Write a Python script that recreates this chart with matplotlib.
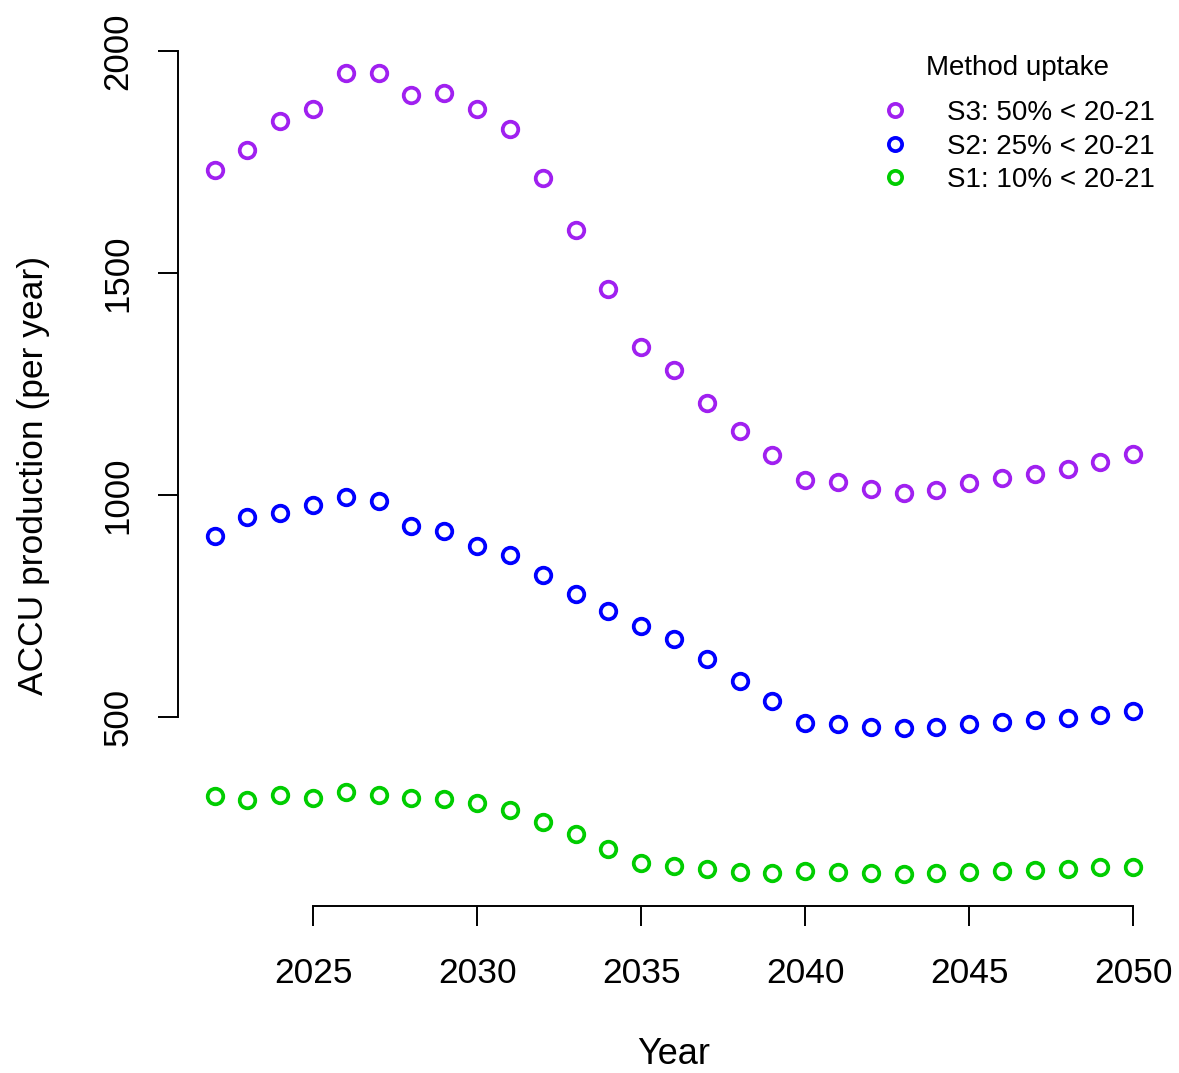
import matplotlib
matplotlib.use("Agg")
import matplotlib.pyplot as plt
import numpy as np

plt.rcParams['font.family'] = ['Liberation Sans', 'DejaVu Sans']

years = np.arange(2022, 2051)

s3 = [1732, 1777, 1842, 1869, 1950, 1950, 1901, 1905, 1869, 1824, 1713, 1597, 1464, 1333, 1282,
      1207, 1143, 1090, 1034, 1029, 1013, 1004, 1011, 1026, 1037, 1047, 1058, 1074, 1092]
s2 = [908, 951, 960, 976, 995, 985, 930, 919, 885, 865, 820, 777, 739, 705, 676,
      631, 580, 535, 486, 484, 477, 475, 477, 484, 489, 492, 497, 505, 512]
s1 = [322, 313, 324, 318, 330, 323, 317, 315, 306, 289, 264, 236, 203, 170, 163,
      157, 150, 149, 152, 150, 149, 146, 148, 150, 152, 154, 157, 161, 162]

labels = ["S3: 50% < 20-21", "S2: 25% < 20-21", "S1: 10% < 20-21"]
colors = ["#A020F0", "#0000FF", "#00CD00"]

W, H = 1179, 1073
fig = plt.figure(figsize=(W / 100, H / 100), dpi=100)
ax = fig.add_axes([177.9 / W, 1 - 906 / H, (1170 - 177.9) / W, (906 - 41) / H])

for vals, lab, col in zip([s3, s2, s1], labels, colors):
    ax.plot(years, vals, linestyle='none', marker='o', markersize=11.2,
            markerfacecolor='none', markeredgecolor=col, markeredgewidth=2.7,
            label=lab)

# R-style axes: 4% padding, axis lines only across tick range
ax.margins(x=0.04, y=0.04)
ax.set_xticks([2025, 2030, 2035, 2040, 2045, 2050])
ax.set_yticks([500, 1000, 1500, 2000])
for s in ['top', 'right']:
    ax.spines[s].set_visible(False)
ax.spines['left'].set_bounds(500, 2000)
ax.spines['bottom'].set_bounds(2025, 2050)
for s in ['left', 'bottom']:
    ax.spines[s].set_linewidth(1.4)
ax.tick_params(axis='both', direction='out', length=14.4, width=1.4, color='black')
ax.tick_params(axis='x', labelsize=25.5, pad=22)
ax.tick_params(axis='y', labelsize=25, pad=17, labelrotation=90)
for t in ax.get_yticklabels():
    t.set_va('center')

ax.set_xlabel("Year", fontsize=26)
ax.xaxis.label.set_va('center')
ax.xaxis.set_label_coords(0.5, (906 - 1055) / 865)
ax.set_ylabel("ACCU production (per year)", fontsize=25.5)
ax.yaxis.label.set_va('center')
ax.yaxis.set_label_coords((34 - 177.9) / (1170 - 177.9), (906 - 475) / 865)

fig.text(1017 / W, 1 - 68 / H, "Method uptake", fontsize=20, ha='center', va='center')
ax.legend(loc='upper left', bbox_to_anchor=(867 / W, 1 - 100 / H),
          bbox_transform=fig.transFigure, frameon=False, fontsize=20,
          markerscale=0.85, handlelength=2, handletextpad=0.87,
          labelspacing=0.27, borderpad=0, borderaxespad=0)

fig.savefig("out.png", dpi=100)
